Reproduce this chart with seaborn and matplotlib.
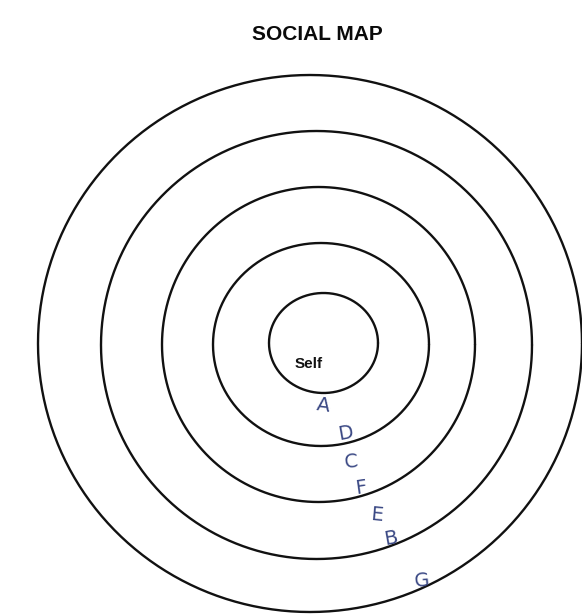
import numpy as np
import pandas as pd
import seaborn as sns
import matplotlib
matplotlib.use("Agg")
import matplotlib.pyplot as plt

# ---- data (pixel space of the hand-drawn map) ----
ring_names = ["Ring 1", "Ring 2", "Ring 3", "Ring 4", "Ring 5"]
ring_cx = [323.5, 321.0, 318.5, 316.5, 310.0]
ring_cy = [343.0, 344.5, 344.5, 345.0, 343.5]
ring_rx = [54.5, 108.0, 156.5, 215.5, 272.0]
ring_ry = [50.0, 101.5, 157.5, 214.0, 268.5]

people = ["A", "D", "C", "F", "E", "B", "G"]
people_x = [323, 345, 351, 361, 377, 391, 422]
people_y = [405, 433, 462, 488, 515, 538, 581]
people_rot = [-8, 10, 5, 8, -5, 10, 5]

center_label = "Self"
title = "SOCIAL MAP"

sns.set_theme(style="white")
plt.rcParams["font.family"] = ["Liberation Sans", "DejaVu Sans"]

fig = plt.figure(figsize=(5.82, 6.14), dpi=100)
ax = fig.add_axes([0, 0, 1, 1])

theta = np.linspace(0, 2 * np.pi, 361)
frames = []
for name, cx, cy, rx, ry in zip(ring_names, ring_cx, ring_cy, ring_rx, ring_ry):
    frames.append(pd.DataFrame({
        "ring": name,
        "order": np.arange(len(theta)),
        "x": cx + rx * np.cos(theta),
        "y": cy + ry * np.sin(theta),
    }))
circles = pd.concat(frames, ignore_index=True)

sns.lineplot(data=circles, x="x", y="y", units="ring", estimator=None,
             sort=False, color="#111111", linewidth=1.7, ax=ax, legend=False)

ax.text(309, 364, center_label, ha="center", va="center",
        fontsize=11, fontweight="bold", color="#111111")

for name, x, y, r in zip(people, people_x, people_y, people_rot):
    ax.text(x, y, name, ha="center", va="center", fontsize=14,
            rotation=r, color="#3a4884",
            family=["DejaVu Sans"], fontweight="normal")

ax.text(317.5, 34, title, ha="center", va="center",
        fontsize=15, fontweight="bold", color="#0a0a0a")

ax.set_xlim(0, 582)
ax.set_ylim(614, 0)
ax.set_aspect("auto")
ax.axis("off")
fig.patch.set_facecolor("white")

fig.savefig("out.png", dpi=100, facecolor="white")
